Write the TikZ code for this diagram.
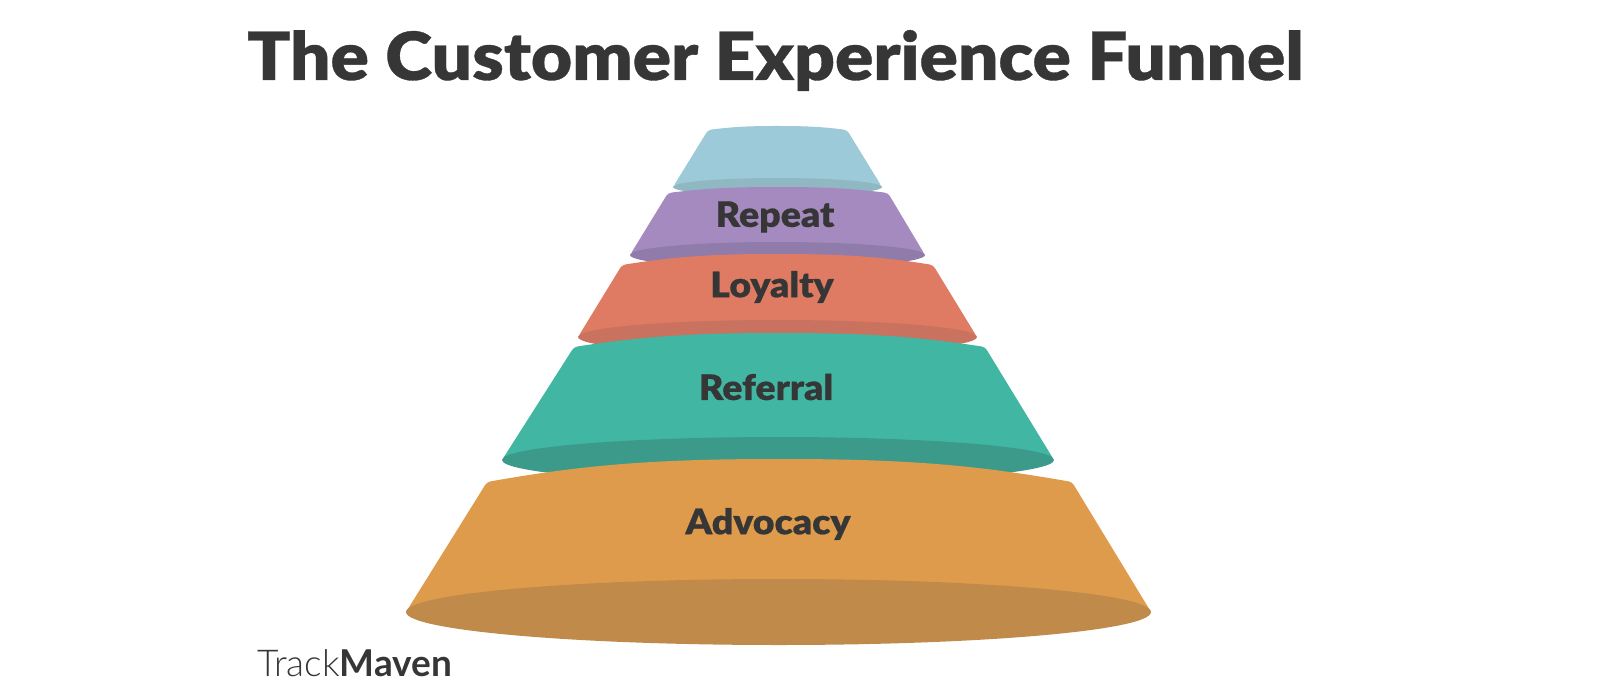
\documentclass[tikz,border=0pt]{standalone}
\usepackage{fontspec}
\setmainfont{Lato}[BoldFont=* Black,BoldFeatures={FakeStretch=1.07,FakeBold=0.5}]
\newfontfamily\lightfont{Lato Light}
\newfontfamily\medfont{Lato Bold}
\definecolor{inkc}{HTML}{363636}
\definecolor{blueb}{HTML}{9CCAD8}\definecolor{blueb dark}{HTML}{8FB8C3}
\definecolor{purpleb}{HTML}{A48ABE}\definecolor{purpleb dark}{HTML}{8F7CAB}
\definecolor{coralb}{HTML}{DF7B62}\definecolor{coralb dark}{HTML}{C9725F}
\definecolor{tealb}{HTML}{41B6A3}\definecolor{tealb dark}{HTML}{3C9A8A}
\definecolor{orangeb}{HTML}{DF9B4C}\definecolor{orangeb dark}{HTML}{C08A4A}
\tikzset{
  bandlabel/.style={text=inkc,font=\bfseries\fontsize{35}{38}\selectfont,inner sep=0pt,anchor=center},
  titletext/.style={text=inkc,font=\bfseries\fontsize{66.5}{72}\selectfont,inner sep=0pt,anchor=base},
}
% #1 colour, #2 #3 shoulder x, #4 shoulder y, #5 apex y, #6 #7 tip x, #8 tip y, #9 dark top y
\newcommand{\funnelband}[9]{%
  \pgfmathsetmacro{\cxb}{(#2+#3)/2}%
  \pgfmathsetmacro{\wb}{#3-#2}%
  \pgfmathsetmacro{\cxt}{(#6+#7)/2}%
  \pgfmathsetmacro{\at}{(#7-#6)/2}%
  \pgfmathsetmacro{\bt}{#8-#9}%
  \fill[#1,rounded corners=3.5pt] (#6,#8) -- (#2,#4)
     .. controls ({#2+0.16*\wb},{#4-0.72*(#4-#5)}) and ({\cxb-0.22*\wb},#5) .. (\cxb,#5)
     .. controls ({\cxb+0.22*\wb},#5) and ({#3-0.16*\wb},{#4-0.72*(#4-#5)}) .. (#3,#4)
     -- (#7,#8) -- cycle;
  \fill[#1 dark] (\cxt,#8) ellipse [x radius=\at, y radius=\bt];
}
\begin{document}
\begin{tikzpicture}[x=1pt,y=-1pt]
\useasboundingbox (0,0) rectangle (1600,698);
\funnelband{blueb}{708}{847}{130}{126}{673}{882}{187}{178}
\funnelband{purpleb}{668}{888}{193}{187}{630}{925}{255}{242}
\funnelband{coralb}{622}{933}{265}{254}{578}{977}{337}{320}
\funnelband{tealb}{574}{985}{347}{333}{502}{1054}{460}{437}
\funnelband{orangeb}{487}{1072}{482}{459}{406}{1151}{612}{579}
\node[titletext] (title) at (775.5,80) {The Customer Experience Funnel};
\node[bandlabel] (repeat) at (775,217) {Repeat};
\node[bandlabel] (loyalty) at (772,287) {Loyalty};
\node[bandlabel] (referral) at (766,387) {Referral};
\node[bandlabel] (advocacy) at (768,524) {Advocacy};
\node[text=inkc,inner sep=0pt,anchor=base west,font=\fontsize{37}{40}\selectfont] (brand) at (257,676) {{\lightfont Track}{\medfont Maven}};
\end{tikzpicture}
\end{document}
